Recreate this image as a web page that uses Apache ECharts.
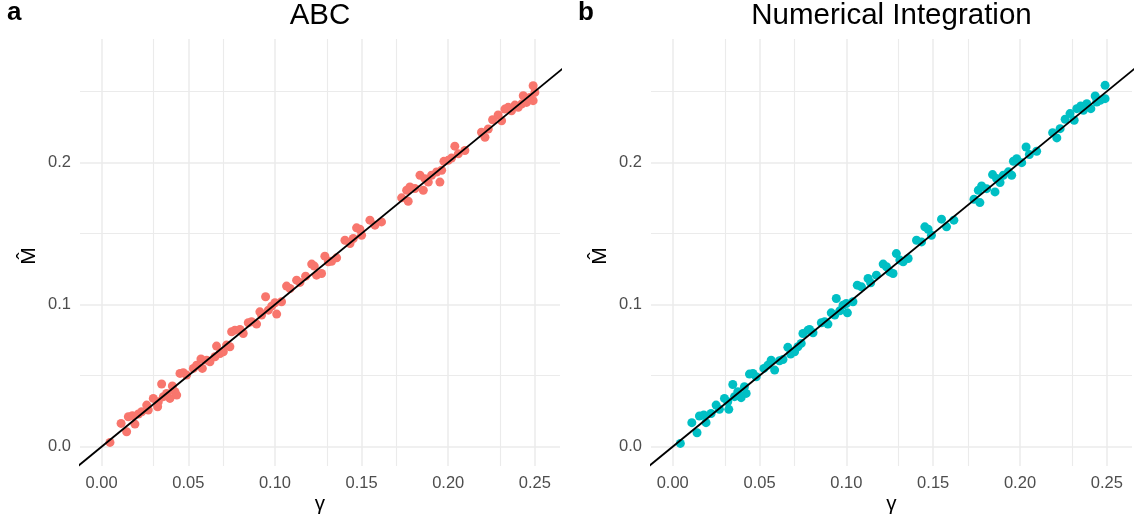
<!DOCTYPE html>
<html>
<head>
<meta charset="utf-8">
<script src="https://cdn.jsdelivr.net/npm/echarts@6/dist/echarts.min.js"></script>
<style>
  html, body { margin: 0; padding: 0; background: #fff; }
  #main { width: 1140px; height: 520px; }
</style>
</head>
<body>
<div id="main"></div>
<script>
// panel a: ABC estimates against true gamma
const abcGamma = [
  0.0048, 0.0112, 0.0144, 0.0154, 0.0177, 0.0192, 0.0212, 0.0231, 0.0260, 0.0269,
  0.0298, 0.0323, 0.0327, 0.0346, 0.0356, 0.0375, 0.0394, 0.0408, 0.0423, 0.0433,
  0.0452, 0.0471, 0.0490, 0.0529, 0.0548, 0.0573, 0.0581, 0.0606, 0.0625, 0.0654,
  0.0663, 0.0683, 0.0702, 0.0721, 0.0740, 0.0750, 0.0769, 0.0798, 0.0817, 0.0846,
  0.0865, 0.0894, 0.0913, 0.0923, 0.0946, 0.0962, 0.0981, 0.1000, 0.1010, 0.1038,
  0.1067, 0.1087, 0.1125, 0.1144, 0.1177, 0.1212, 0.1227, 0.1240, 0.1269, 0.1288,
  0.1308, 0.1327, 0.1356, 0.1404, 0.1433, 0.1452, 0.1471, 0.1490, 0.1500, 0.1548,
  0.1577, 0.1615, 0.1731, 0.1760, 0.1769, 0.1779, 0.1808, 0.1837, 0.1856, 0.1865,
  0.1885, 0.1904, 0.1933, 0.1952, 0.1962, 0.1975, 0.2000, 0.2019, 0.2038, 0.2058,
  0.2096, 0.2192, 0.2212, 0.2231, 0.2256, 0.2288, 0.2308, 0.2327, 0.2346, 0.2365,
  0.2385, 0.2404, 0.2423, 0.2433, 0.2452, 0.2471, 0.2490, 0.2490, 0.2500
];
const abcEstimate = [
  0.0030, 0.0164, 0.0105, 0.0211, 0.0218, 0.0159, 0.0230, 0.0246, 0.0293, 0.0258,
  0.0340, 0.0281, 0.0316, 0.0441, 0.0352, 0.0375, 0.0340, 0.0427, 0.0387, 0.0363,
  0.0516, 0.0520, 0.0504, 0.0551, 0.0574, 0.0617, 0.0551, 0.0609, 0.0598, 0.0633,
  0.0708, 0.0656, 0.0668, 0.0715, 0.0703, 0.0809, 0.0820, 0.0825, 0.0797, 0.0872,
  0.0879, 0.0863, 0.0949, 0.0926, 0.1055, 0.0961, 0.0989, 0.1013, 0.0933, 0.1020,
  0.1130, 0.1113, 0.1172, 0.1156, 0.1200, 0.1285, 0.1271, 0.1207, 0.1219, 0.1341,
  0.1301, 0.1305, 0.1329, 0.1453, 0.1430, 0.1465, 0.1540, 0.1530, 0.1488, 0.1594,
  0.1559, 0.1582, 0.1751, 0.1805, 0.1727, 0.1828, 0.1817, 0.1910, 0.1805, 0.1886,
  0.1862, 0.1910, 0.1933, 0.1862, 0.1945, 0.2008, 0.2015, 0.2031, 0.2115, 0.2061,
  0.2084, 0.2213, 0.2178, 0.2236, 0.2301, 0.2334, 0.2294, 0.2376, 0.2388, 0.2364,
  0.2404, 0.2388, 0.2411, 0.2470, 0.2423, 0.2458, 0.2540, 0.2435, 0.2493
];

// panel b: numerical integration estimates
const niGamma = [
  0.0044, 0.0110, 0.0140, 0.0154, 0.0179, 0.0192, 0.0221, 0.0250, 0.0269, 0.0298,
  0.0323, 0.0317, 0.0346, 0.0356, 0.0375, 0.0394, 0.0413, 0.0423, 0.0442, 0.0462,
  0.0481, 0.0525, 0.0548, 0.0567, 0.0587, 0.0615, 0.0635, 0.0663, 0.0679, 0.0702,
  0.0721, 0.0740, 0.0750, 0.0779, 0.0788, 0.0808, 0.0856, 0.0875, 0.0894, 0.0913,
  0.0933, 0.0942, 0.0962, 0.0981, 0.1000, 0.1006, 0.1038, 0.1063, 0.1087, 0.1125,
  0.1140, 0.1173, 0.1212, 0.1231, 0.1250, 0.1269, 0.1288, 0.1308, 0.1327, 0.1356,
  0.1404, 0.1433, 0.1452, 0.1471, 0.1490, 0.1548, 0.1577, 0.1619, 0.1735, 0.1760,
  0.1769, 0.1779, 0.1808, 0.1842, 0.1856, 0.1865, 0.1885, 0.1904, 0.1933, 0.1952,
  0.1962, 0.1981, 0.2010, 0.2035, 0.2054, 0.2096, 0.2188, 0.2212, 0.2231, 0.2260,
  0.2288, 0.2312, 0.2327, 0.2350, 0.2365, 0.2385, 0.2408, 0.2433, 0.2442, 0.2462,
  0.2490, 0.2490
];
const niEstimate = [
  0.0023, 0.0169, 0.0098, 0.0216, 0.0223, 0.0169, 0.0234, 0.0293, 0.0263, 0.0340,
  0.0263, 0.0316, 0.0438, 0.0352, 0.0387, 0.0345, 0.0422, 0.0375, 0.0511, 0.0516,
  0.0492, 0.0551, 0.0574, 0.0609, 0.0539, 0.0605, 0.0614, 0.0699, 0.0652, 0.0668,
  0.0703, 0.0727, 0.0797, 0.0820, 0.0825, 0.0802, 0.0872, 0.0879, 0.0863, 0.0942,
  0.0926, 0.1043, 0.0956, 0.0996, 0.1008, 0.0942, 0.1020, 0.1137, 0.1125, 0.1184,
  0.1153, 0.1207, 0.1285, 0.1266, 0.1230, 0.1219, 0.1359, 0.1313, 0.1301, 0.1324,
  0.1453, 0.1441, 0.1547, 0.1530, 0.1488, 0.1601, 0.1547, 0.1594, 0.1741, 0.1805,
  0.1718, 0.1835, 0.1816, 0.1915, 0.1793, 0.1887, 0.1859, 0.1910, 0.1934, 0.1910,
  0.2009, 0.2027, 0.1999, 0.2109, 0.2056, 0.2079, 0.2210, 0.2173, 0.2238, 0.2304,
  0.2344, 0.2297, 0.2379, 0.2398, 0.2367, 0.2414, 0.2379, 0.2468, 0.2426, 0.2438,
  0.2543, 0.2449
];

const xTicks = [0, 0.05, 0.1, 0.15, 0.2, 0.25];
const xMinor = [0.025, 0.075, 0.125, 0.175, 0.225];
const yTicks = [0, 0.1, 0.2];
const yMinor = [0.05, 0.15, 0.25];
const identity = [-0.05, 0.35]; // y = x reference line

const FONT = '"Liberation Sans", Arial, sans-serif';
const GRID_COLOR = '#EBEBEB';

const panels = [
  { letter: 'a', title: 'ABC', gamma: abcGamma, est: abcEstimate, color: '#F8766D', left: 80, width: 480 },
  { letter: 'b', title: 'Numerical Integration', gamma: niGamma, est: niEstimate, color: '#00BFC4', left: 651, width: 481 }
];

const chart = echarts.init(document.getElementById('main'));

const grid = [];
const xAxis = [];
const yAxis = [];
const series = [];
const graphic = [];

panels.forEach((p, i) => {
  grid.push({ left: p.left, width: p.width, top: 39, height: 427 });

  xAxis.push({
    type: 'value', gridIndex: i, min: -0.0125, max: 0.2645,
    axisLine: { show: false }, axisTick: { show: false }, splitLine: { show: false },
    axisLabel: {
      customValues: xTicks, formatter: v => v.toFixed(2),
      color: '#4D4D4D', fontSize: 16.5, fontFamily: FONT, margin: 9
    }
  });
  yAxis.push({
    type: 'value', gridIndex: i, min: -0.01358, max: 0.2869,
    axisLine: { show: false }, axisTick: { show: false }, splitLine: { show: false },
    axisLabel: {
      customValues: yTicks, formatter: v => v.toFixed(1),
      color: '#4D4D4D', fontSize: 16.5, fontFamily: FONT, margin: 9
    }
  });

  // panel grid lines (major + minor)
  const major = { color: GRID_COLOR, width: 1.5, type: 'solid' };
  const minor = { color: GRID_COLOR, width: 1.1, type: 'solid' };
  series.push({
    type: 'line', xAxisIndex: i, yAxisIndex: i, data: [], silent: true,
    markLine: {
      silent: true, symbol: ['none', 'none'], animation: false, z: 0,
      label: { show: false }, emphasis: { disabled: true },
      data: [
        ...xTicks.map(v => ({ xAxis: v, lineStyle: major })),
        ...xMinor.map(v => ({ xAxis: v, lineStyle: minor })),
        ...yTicks.map(v => ({ yAxis: v, lineStyle: major })),
        ...yMinor.map(v => ({ yAxis: v, lineStyle: minor }))
      ]
    }
  });

  series.push({
    type: 'scatter', xAxisIndex: i, yAxisIndex: i, z: 2, silent: true,
    symbolSize: 9,
    itemStyle: { color: p.color, opacity: 1 },
    data: p.gamma.map((g, k) => [g, p.est[k]])
  });

  series.push({
    type: 'line', xAxisIndex: i, yAxisIndex: i, z: 3, silent: true,
    showSymbol: false, clip: true,
    lineStyle: { color: '#000', width: 1.8 },
    data: identity.map(v => [v, v])
  });

  const cx = p.left + p.width / 2;
  graphic.push(
    { type: 'text', x: p.left - 73, y: 13, style: { text: p.letter, font: 'bold 26px ' + FONT, fill: '#000', textAlign: 'left', textVerticalAlign: 'middle' } },
    { type: 'text', x: cx, y: 15.5, style: { text: p.title, font: '29.5px ' + FONT, fill: '#000', textAlign: 'center', textVerticalAlign: 'middle' } },
    { type: 'text', x: cx, y: 504, style: { text: 'γ', font: '20.6px ' + FONT, fill: '#000', textAlign: 'center', textVerticalAlign: 'middle' } },
    { type: 'text', x: p.left - 51, y: 256, rotation: Math.PI / 2, style: { text: 'M\u0302', font: '21px ' + FONT, fill: '#000', textAlign: 'center', textVerticalAlign: 'middle' } }
  );
});

chart.setOption({
  animation: false,
  backgroundColor: '#fff',
  grid: grid,
  xAxis: xAxis,
  yAxis: yAxis,
  series: series,
  graphic: graphic
});
</script>
</body>
</html>
